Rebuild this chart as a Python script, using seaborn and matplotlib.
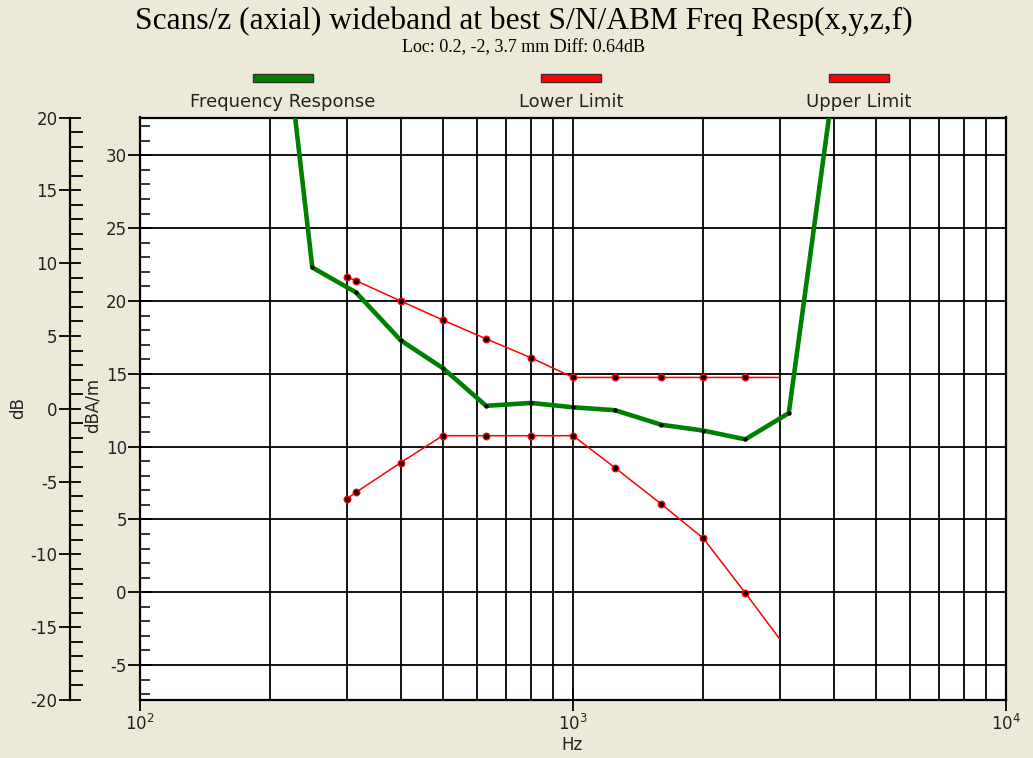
import matplotlib
matplotlib.use("Agg")
import matplotlib.pyplot as plt
import numpy as np
import pandas as pd
import seaborn as sns
from matplotlib.patches import Rectangle
from matplotlib.ticker import LogLocator, MultipleLocator, NullFormatter

# ---- data -----------------------------------------------------------------
resp_hz = [200, 250, 315, 400, 500, 630, 800, 1000, 1250, 1600, 2000, 2500, 3150, 4000]
resp_db = [47.5, 22.3, 20.6, 17.3, 15.4, 12.8, 13.0, 12.7, 12.5, 11.5, 11.1, 10.5, 12.3, 35.0]

limit_hz = [300, 315, 400, 500, 630, 800, 1000, 1250, 1600, 2000, 2500, 3000]
upper_db = [21.65, 21.4, 20.0, 18.7, 17.4, 16.1, 14.75, 14.75, 14.75, 14.75, 14.75, 14.75]
lower_db = [6.4, 6.85, 8.9, 10.75, 10.75, 10.75, 10.75, 8.55, 6.05, 3.7, -0.05, -3.2]

title = "Scans/z (axial) wideband at best S/N/ABM Freq Resp(x,y,z,f)"
subtitle = "Loc: 0.2, -2, 3.7 mm Diff: 0.64dB"
legend_labels = ["Frequency Response", "Lower Limit", "Upper Limit"]
x_label = "Hz"
y_label_outer = "dB"
y_label_inner = "dBA/m"

# ---- style ----------------------------------------------------------------
BG = "#ECE9D8"
GREEN = "#008000"
RED = "#FF0000"
sns.set_theme(style="white")
plt.rcParams["font.family"] = ["DejaVu Sans"]
plt.rcParams["axes.unicode_minus"] = False

W, H = 1033, 758
fig = plt.figure(figsize=(W / 100, H / 100), dpi=100, facecolor=BG)


def fx(px):
    return px / W


def fy(py):
    return 1 - py / H


left, right, top, bottom = 140, 1006, 117.5, 700
ax = fig.add_axes([fx(left), fy(bottom), (right - left) / W, (bottom - top) / H])
ax.set_facecolor("white")

# ---- series ---------------------------------------------------------------
resp = pd.DataFrame({"hz": resp_hz, "db": resp_db})
limits = pd.DataFrame({"hz": limit_hz, "upper": upper_db, "lower": lower_db})

sns.lineplot(data=resp, x="hz", y="db", ax=ax, color=GREEN, lw=3.3,
             estimator=None, sort=False, zorder=4)
sns.scatterplot(data=resp, x="hz", y="db", ax=ax, color="black", s=10,
                linewidth=0, zorder=5)

for col in ["upper", "lower"]:
    sns.lineplot(data=limits, x="hz", y=col, ax=ax, color=RED, lw=1.1,
                 estimator=None, sort=False, zorder=3)
    sns.scatterplot(data=limits.iloc[:-1], x="hz", y=col, ax=ax, color="black",
                    edgecolor=RED, linewidth=1.0, s=22, zorder=5)

# ---- axes -----------------------------------------------------------------
ax.set_xscale("log")
ax.set_xlim(100, 10000)
ax.set_ylim(-7.4, 32.6)
ax.set_xlabel("")
ax.set_ylabel("")

ax.xaxis.set_major_locator(LogLocator(base=10, numticks=5))
ax.xaxis.set_minor_locator(LogLocator(base=10, subs=np.arange(2, 10), numticks=20))
ax.xaxis.set_minor_formatter(NullFormatter())
ax.yaxis.set_major_locator(MultipleLocator(5))
ax.yaxis.set_minor_locator(MultipleLocator(1))

ax.set_axisbelow(True)
ax.grid(True, which="major", axis="y", color="black", lw=1.3)
ax.grid(True, which="both", axis="x", color="black", lw=1.3)

ax.tick_params(axis="x", which="major", direction="inout", length=16, width=1.3,
               labelsize=12, pad=2, bottom=True, colors="black")
ax.tick_params(axis="x", which="minor", length=0)
ax.tick_params(axis="y", which="major", direction="inout", length=17, width=1.3,
               labelsize=12, pad=1, left=True, colors="black")
ax.tick_params(axis="y", which="minor", direction="in", length=7, width=1.3,
               left=True)
ax.tick_params(labelcolor="#222222")
for s in ax.spines.values():
    s.set_color("black")
    s.set_linewidth(1.6)

# outer dB scale
ax2 = ax.twinx()
ax2.set_ylim(-20, 20)
ax2.yaxis.set_major_locator(MultipleLocator(5))
ax2.yaxis.set_minor_locator(MultipleLocator(1))
ax2.yaxis.set_ticks_position("left")
ax2.yaxis.set_label_position("left")
for name in ["right", "top", "bottom"]:
    ax2.spines[name].set_visible(False)
ax2.spines["left"].set_visible(True)
ax2.spines["left"].set_position(("axes", -(left - 70) / (right - left)))
ax2.spines["left"].set_color("black")
ax2.spines["left"].set_linewidth(1.6)
ax2.tick_params(axis="y", which="major", direction="inout", length=16, width=1.3,
                labelsize=12, pad=1, colors="black", labelcolor="#222222")
ax2.tick_params(axis="y", which="minor", direction="in", length=9, width=1.3,
                colors="black")
ax2.grid(False)

# ---- texts ----------------------------------------------------------------
fig.text(fx(523.5), fy(29), title, ha="center", va="baseline",
         family=["Liberation Serif"], size=22.7, color="black")
fig.text(fx(523.5), fy(52), subtitle, ha="center", va="baseline",
         family=["Liberation Serif"], size=13, color="black")

fig.text(fx(18), fy(408), y_label_outer, rotation=90, ha="center", va="center",
         size=12, color="#222222")
fig.text(fx(93), fy(405), y_label_inner, rotation=90, ha="center", va="center",
         size=12, color="#222222")
fig.text(fx(572), fy(745), x_label, ha="center", va="center",
         size=12, color="#222222")

# ---- legend row -----------------------------------------------------------
legend_colors = [GREEN, RED, RED]
legend_centers = [283, 571, 859]
for lab, col, cx in zip(legend_labels, legend_colors, legend_centers):
    fig.add_artist(Rectangle((fx(cx - 30), fy(82)), 60 / W, 8 / H,
                             transform=fig.transFigure, facecolor=col,
                             edgecolor="#333333", lw=1.0))
    fig.text(fx(cx), fy(102), lab, ha="center", va="center", size=13,
             color="#222222")

fig.savefig("out.png", dpi=100, facecolor=BG)
